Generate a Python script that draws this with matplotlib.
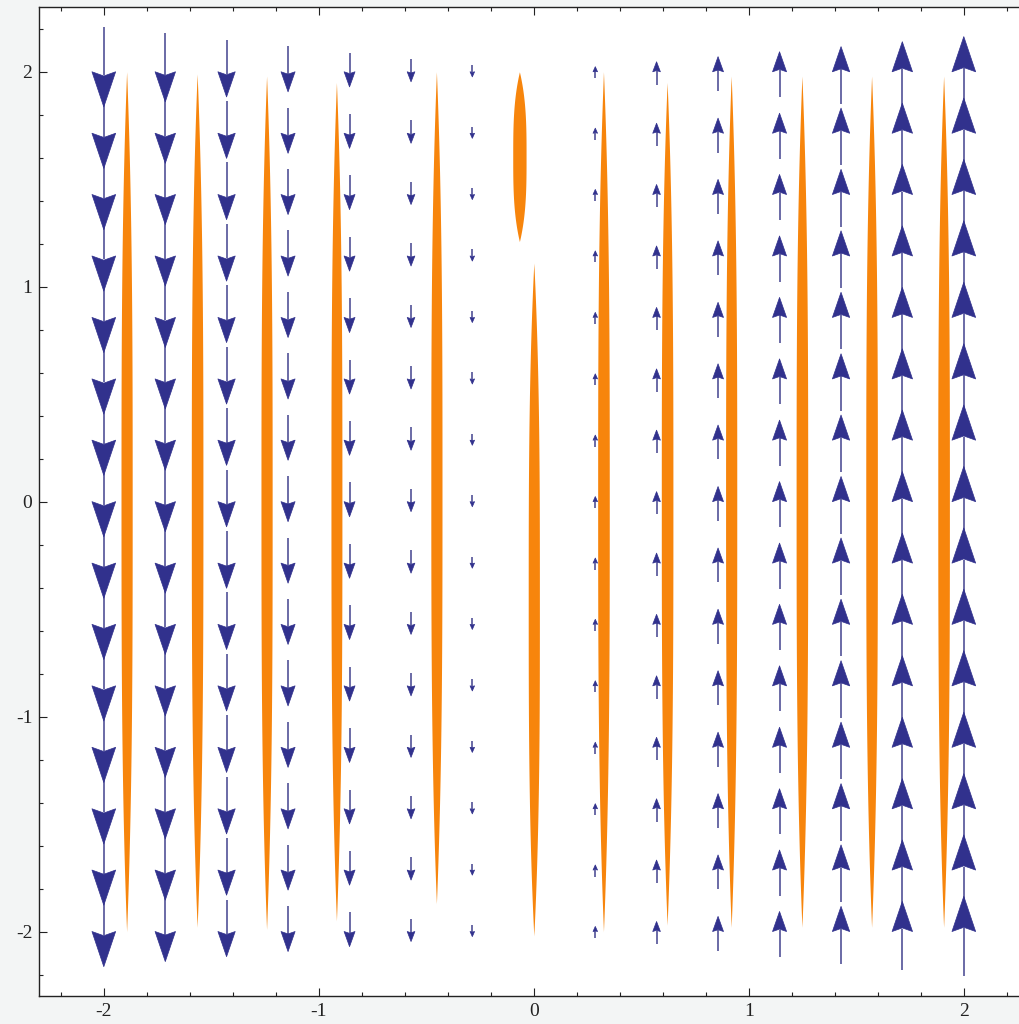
import numpy as np
import matplotlib
matplotlib.use("Agg")
import matplotlib.pyplot as plt
from matplotlib.collections import LineCollection, PolyCollection
from matplotlib.ticker import MultipleLocator, FixedLocator

plt.rcParams['axes.unicode_minus'] = False
plt.rcParams['font.family'] = ['Liberation Serif', 'DejaVu Serif']

# ---- data ----
grid_x = [-2.0, -1.714, -1.429, -1.143, -0.857, -0.571, -0.286, 0.0,
          0.286, 0.571, 0.857, 1.143, 1.429, 1.714, 2.0]
grid_y = [-2.0, -1.714, -1.429, -1.143, -0.857, -0.571, -0.286, 0.0,
          0.286, 0.571, 0.857, 1.143, 1.429, 1.714, 2.0]
# vertical component of the field in each column (horizontal component is 0)
column_v = [-2.0, -1.71, -1.43, -1.14, -0.86, -0.57, -0.29, 0.0,
            0.29, 0.57, 0.86, 1.14, 1.43, 1.71, 2.0]

# orange lens-shaped regions
lens_x = [-1.894, -1.566, -1.243, -0.918, -0.453, -0.067, 0.0,
          0.324, 0.620, 0.918, 1.247, 1.571, 1.906]
lens_ybot = [-2.0, -1.98, -1.99, -1.95, -1.87, 1.21, -2.02,
             -2.0, -1.97, -1.98, -1.98, -1.98, -1.98]
lens_ytop = [2.0, 1.99, 1.98, 1.95, 2.0, 2.0, 1.11,
             2.0, 1.95, 1.98, 1.98, 1.98, 1.98]
lens_w = [0.052, 0.054, 0.052, 0.051, 0.052, 0.062, 0.052,
          0.054, 0.054, 0.052, 0.054, 0.054, 0.054]

tick_vals = [-2, -1, 0, 1, 2]
tick_labels = ['-2', '-1', '0', '1', '2']

# ---- style ----
ORANGE = '#f7850c'
HEAD = '#31318d'
SHAFT = '#6a6aa6'

fig = plt.figure(figsize=(10.19, 10.24), dpi=100, facecolor='#f3f5f5')
ax = fig.add_axes([39.3 / 1019, 28 / 1024, 4.6 * 215 / 1019, 988.7 / 1024])
ax.set_facecolor('white')
ax.set_xlim(-2.3, 2.3)
ax.set_ylim(-2.3, 2.3)

# lenses
for cx, yb, yt, w in zip(lens_x, lens_ybot, lens_ytop, lens_w):
    yy = np.linspace(yb, yt, 300)
    t = (yy - (yb + yt) / 2) / ((yt - yb) / 2)
    half = 0.5 * w * (1 - np.abs(t) ** 3)
    ax.fill_betweenx(yy, cx - half, cx + half, color=ORANGE, lw=0, zorder=2)

# arrows
scale = 0.186
shafts, heads = [], []
for cx, v in zip(grid_x, column_v):
    if v == 0:
        continue
    s = np.sign(v)
    L = scale * abs(v)
    hl = 0.44 * L
    hw = 0.28 * L + 0.006
    for cy in grid_y:
        tail = cy - s * 0.56 * L
        base = cy
        tip = cy + s * hl
        shafts.append([(cx, tail), (cx, base + s * 0.1 * hl)])
        heads.append([(cx, tip), (cx - hw / 2, base), (cx, base + s * 0.12 * hl),
                      (cx + hw / 2, base)])
ax.add_collection(LineCollection(shafts, colors=SHAFT, linewidths=1.4, zorder=3))
ax.add_collection(PolyCollection(heads, facecolors=HEAD, edgecolors=HEAD,
                                 linewidths=0.5, zorder=4))

# axes styling
for side in ['left', 'bottom', 'top']:
    ax.spines[side].set_color('#222222')
    ax.spines[side].set_linewidth(1.0)
ax.spines['right'].set_visible(False)

ax.xaxis.set_major_locator(FixedLocator(tick_vals))
ax.yaxis.set_major_locator(FixedLocator(tick_vals))
ax.set_xticklabels(tick_labels)
ax.set_yticklabels(tick_labels)
ax.xaxis.set_minor_locator(MultipleLocator(0.2))
ax.yaxis.set_minor_locator(MultipleLocator(0.2))
ax.tick_params(which='both', direction='in', top=True, right=False,
               colors='#222222', labelsize=14, width=0.8)
ax.tick_params(which='major', length=6, pad=5)
ax.tick_params(which='minor', length=3)

fig.savefig('out.png', dpi=100, facecolor=fig.get_facecolor())
